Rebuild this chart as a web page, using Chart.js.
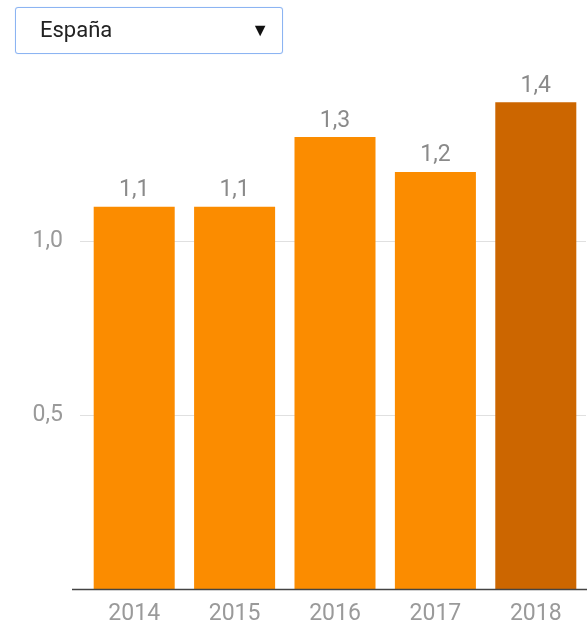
<!DOCTYPE html>
<html>
<head>
<meta charset="utf-8">
<script src="https://cdn.jsdelivr.net/npm/chart.js@4/dist/chart.umd.min.js"></script>
<style>
  html, body { margin: 0; padding: 0; background: #fff; }
  body { width: 587px; height: 623px; position: relative; overflow: hidden; font-family: Roboto, "Noto Sans", sans-serif; }
  #wrap { position: absolute; left: 0; top: 0; width: 587px; height: 623px; }
  #sel {
    position: absolute; left: 15px; top: 7px; width: 268px; height: 47px;
    border: 1.5px solid #8cb4f2; border-radius: 3px; box-sizing: border-box;
    box-shadow: 0 0 1px #b9d2f7;
    font-family: Roboto, sans-serif; font-size: 22px; color: #222;
    line-height: 44px; padding-left: 24px; background: #fff;
  }
  #sel .arrow { position: absolute; right: 13px; top: 0; font-size: 18px; color: #111; }
</style>
</head>
<body>
<div id="wrap"><canvas id="c" width="587" height="623"></canvas></div>
<div id="sel">España<span class="arrow">&#9660;</span></div>
<script>
const years = ['2014', '2015', '2016', '2017', '2018'];
const values = [1.1, 1.1, 1.3, 1.2, 1.4];
const yTicks = [0.5, 1.0];
const highlightYear = '2018';

const fmt = v => v.toFixed(1).replace('.', ',');

const labelsPlugin = {
  id: 'valLabels',
  afterDatasetsDraw(chart) {
    const ctx = chart.ctx;
    const meta = chart.getDatasetMeta(0);
    ctx.save();
    ctx.font = '23px Roboto';
    ctx.fillStyle = '#8a8a8a';
    ctx.textAlign = 'center';
    ctx.textBaseline = 'alphabetic';
    meta.data.forEach((bar, i) => {
      ctx.fillText(fmt(values[i]), bar.x, bar.y - 10.5);
    });
    ctx.restore();
  },
  afterDraw(chart) {
    const ctx = chart.ctx;
    const y0 = chart.scales.y.getPixelForValue(0);
    ctx.save();
    ctx.strokeStyle = '#444';
    ctx.lineWidth = 1.5;
    ctx.beginPath();
    ctx.moveTo(72, y0);
    ctx.lineTo(587, y0);
    ctx.stroke();
    ctx.restore();
  }
};

new Chart(document.getElementById('c'), {
  type: 'bar',
  data: {
    labels: years,
    datasets: [{
      data: values,
      backgroundColor: years.map(y => y === highlightYear ? '#cc6600' : '#fb8c00'),
      borderWidth: 0,
      barPercentage: 0.807,
      categoryPercentage: 1.0
    }]
  },
  options: {
    responsive: false,
    animation: false,
    devicePixelRatio: 1,
    layout: { padding: { left: 0, right: 1, top: 67.5, bottom: 0 } },
    plugins: { legend: { display: false }, tooltip: { enabled: false } },
    scales: {
      x: {
        grid: { display: false, drawTicks: false },
        border: { display: false },
        ticks: { color: '#9a9a9a', font: { family: 'Roboto', size: 23 }, padding: 11 },
        afterFit(s) { s.height = 33.5; }
      },
      y: {
        min: 0, max: 1.5,
        afterBuildTicks(s) { s.ticks = yTicks.map(v => ({ value: v })); },
        afterFit(s) { s.width = 84; },
        grid: { color: '#e0e0e0', lineWidth: 1, drawTicks: true, tickLength: 4 },
        border: { display: false },
        ticks: {
          color: '#9a9a9a', font: { family: 'Roboto', size: 23 }, padding: 17,
          callback: v => fmt(v)
        }
      }
    }
  },
  plugins: [labelsPlugin]
});
</script>
</body>
</html>
